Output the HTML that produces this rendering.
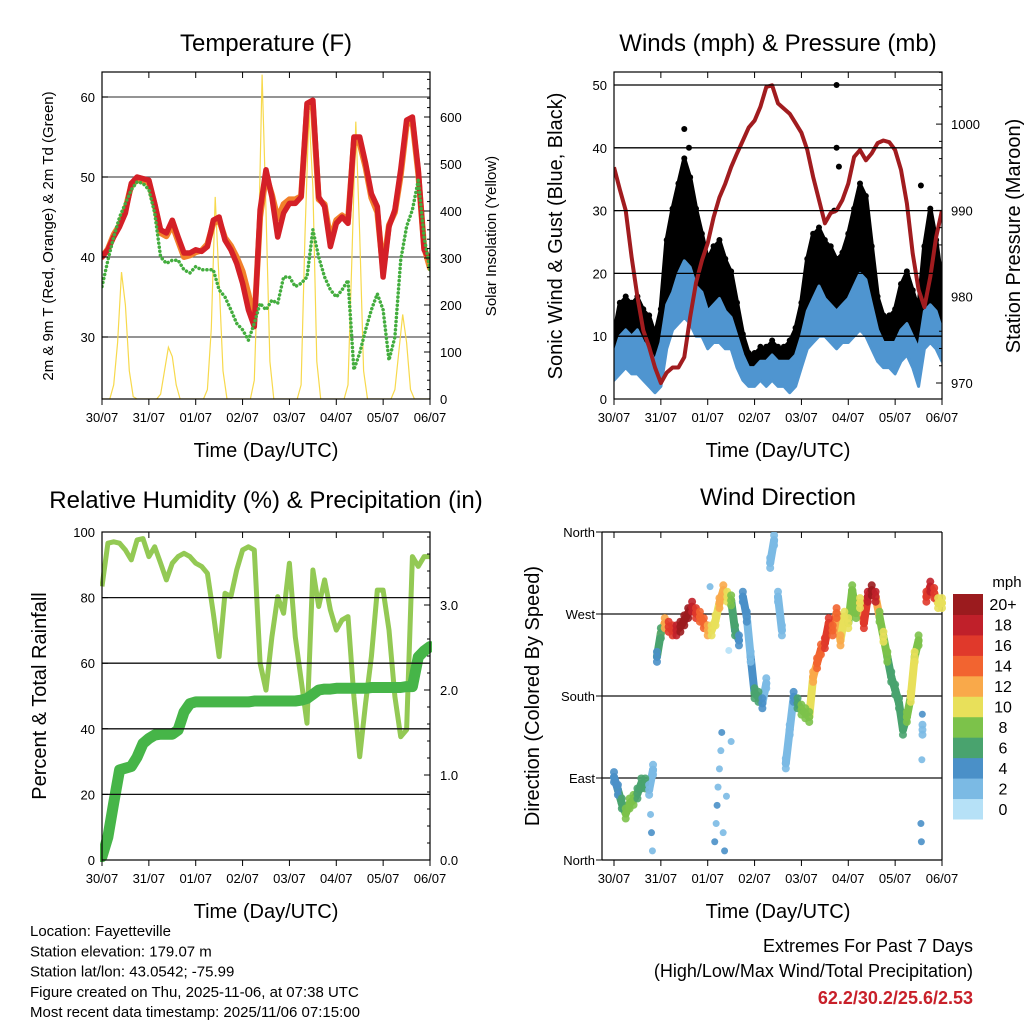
<!DOCTYPE html>
<html><head><meta charset="utf-8"><style>
html,body{margin:0;padding:0;background:#fff}
svg{display:block;font-family:"Liberation Sans",Arial,sans-serif}
</style></head><body>
<svg id="c" width="1024" height="1024" viewBox="0 0 1024 1024" xmlns="http://www.w3.org/2000/svg"></svg>
<script>
// ---------- DATA (3-hour steps, days 0..7) ----------
const dayLabels = ["30/07","31/07","01/07","02/07","03/07","04/07","05/07","06/07"];
const tempRed = [40,40.9,42.5,43.8,45.5,49.2,50,49.8,49.6,46.7,43.4,43,44.6,42.5,40.5,40.5,40.9,40.7,41.3,44.6,45,42.1,40.9,39.2,36.7,33.4,31.3,45.9,50.9,47.5,42.5,45.5,46.7,46.7,47.5,59.2,59.6,47.5,46.3,41.3,44.2,45,44.2,55,55,51.7,47.9,46.3,37.5,43.8,45.9,50.9,57.1,57.5,50.9,40.9,39.6];
const tempOrange = [40,41,42.8,44,46,49,49.6,49.5,49.3,46.5,43,42.6,44,42,40,40.2,40.6,40.8,41.6,44.2,44.6,42.4,41.4,40,38.2,35.4,32,45,50.2,47.8,44.8,46.6,47.2,47.2,47.6,58.6,58.8,47.2,46.6,42.2,44.6,45.2,44.6,54.4,54.2,51.2,47.4,45.6,38.4,44,45.6,50.2,56.5,57,50.4,41.2,38.6];
const dewGreen = [36.3,39.6,42.5,45,46.7,48.4,49.4,49.2,48.4,45.5,40,39.2,39.6,39.6,38.4,38,38.8,38.4,38.4,38.4,35.9,35,33.4,31.7,30.9,29.6,31.7,34.2,33.4,34.6,34.2,37.5,37.5,36.3,36.7,37.5,43.4,40,37.5,35.9,35,35.9,37.1,25.9,28,30.9,33.4,35.4,33.4,27.1,30,39.6,43.8,45.9,49.6,42.5,38.4];
// solar insolation, 2-hour steps
const solar = [0,0,0,30,120,270,200,60,5,0,0,0, 0,0,0,10,60,110,90,30,0,0,0,0, 0,0,0,20,150,430,250,60,0,0,0,0, 0,0,0,40,300,690,400,80,0,0,0,0, 0,0,0,30,350,610,450,80,0,0,0,0, 0,0,0,30,300,590,350,60,0,0,0,0, 0,0,0,20,100,180,120,20,0,0,0,0, 0];
const pressure = [995,992.4,990,984.6,980,976.1,974.2,971.8,970,971.2,971.8,971.8,973,977.6,981.6,984.2,986.2,989.2,991.5,993.1,995,996.6,998.1,999.6,1000.4,1002,1004.3,1004.5,1002.4,1001.8,1001.2,1000.1,999,997,993.9,991.2,988.5,989.7,990,991.2,993.1,996.2,997,995.8,996.6,997.8,998.1,997.9,997,994.7,990.8,985,980.8,978.8,982.3,986.9,990];
const windLo = [3,4,5,4,4,3,2,1,2,8,11,12,13,12,10,10,8,9,9,8,8,5,3,2,2,3,2,3,2,2,1,2,5,8,9,10,10,9,8,9,9,10,11,10,8,6,5,5,4,6,7,5,2,8,9,8,6];
const windHi = [7,10,11,10,11,9,8,6,9,15,17,20,22,21,18,17,14,15,16,14,13,10,7,5,5,6,6,7,6,6,6,7,10,14,16,18,16,15,14,15,16,18,20,19,15,11,9,9,9,11,12,10,8,14,15,14,11];
const gustLo = [5,8,9,8,8,7,6,4,5,12,16,18,20,19,16,15,13,14,14,12,12,8,5,4,4,5,4,5,4,4,3,4,8,13,15,16,15,14,12,14,15,17,19,18,14,10,8,8,7,10,12,10,8,13,15,14,10];
const gustHi = [10,15,16,15,16,14,13,10,14,25,30,34,38,35,30,26,22,24,25,22,20,15,10,7,7,8,8,9,8,8,9,11,15,22,26,27,25,24,22,23,26,30,34,32,24,16,13,13,14,18,20,17,14,24,30,25,18];
const gustOutDay = [1.5,1.6,4.75,4.75,4.8,4.7,6.55];
const gustOutVal = [43,40,50,40,37,30,34];
const rhVals = [83.4,96.6,97,96.6,94.5,91.5,97.6,98,92.5,95.5,90.5,85.4,90.5,92.5,93.5,92.5,90.5,89.5,87.4,75.2,62,81.3,80.3,88.4,94.5,95.5,94.5,60,51.8,68,80.3,75.2,90.5,68,55,41.7,88.4,77.3,85.4,76.2,70.1,73.2,74.2,49.8,31.5,47.8,62,82.3,82.3,70.1,49.8,37.6,39.7,92.5,89.5,92.5,92.5];
const rainVals = [0.04,0.27,0.67,1.06,1.08,1.1,1.21,1.37,1.43,1.47,1.48,1.48,1.48,1.53,1.74,1.84,1.86,1.86,1.86,1.86,1.86,1.86,1.86,1.86,1.86,1.86,1.87,1.87,1.87,1.87,1.87,1.87,1.87,1.87,1.88,1.9,1.95,2.0,2.01,2.01,2.02,2.02,2.02,2.02,2.02,2.02,2.03,2.03,2.03,2.03,2.03,2.03,2.04,2.04,2.39,2.46,2.51];
// wind direction, 2-hour steps
const dirVals = [91,77,62,51,62,66,73,84,84,77,99,223,249,260,256,252,252,256,263,271,278,271,267,260,252,252,263,282,296,289,285,252,241,289,267,223,183,179,172,194,326,351,289,252,106,143,179,172,165,161,157,201,216,231,238,260,252,271,241,267,260,296,271,282,260,289,296,289,267,245,223,201,187,172,143,157,179,223,241,143,289,300,293,282,282];
const dirSpd = [4,5,7,8,9,8,7,7,6,3,2,5,7,13,16,17,18,20,20,20,18,16,14,14,12,10,10,12,12,10,9,6,5,4,4,3,6,6,4,3,3,3,3,3,2,3,4,6,8,9,9,12,14,15,17,16,15,14,12,11,10,8,8,11,16,18,20,18,8,10,8,7,6,6,6,8,11,10,8,3,16,18,16,10,10];
const dirExtraDay = [2.15,2.18,2.2,2.22,2.25,2.28,2.3,2.33,2.36,2.4,0.78,0.8,0.82,6.55,6.56,6.57,6.58,2.05,2.45,2.5];
const dirExtraDeg = [20,40,60,80,100,120,140,30,10,70,50,30,10,40,20,110,160,300,230,130];
const dirExtraSpd = [4,3,4,3,2,3,4,3,4,2,3,4,3,4,4,3,4,2,1,2];
const cbLabels = ["0","2","4","6","8","10","12","14","16","18","20+"];
const cbColors = ["#b6e1f7","#7bbae4","#4a90c8","#49a36e","#7cc24a","#e8e05a","#f9a94a","#f26430","#e0392b","#c0202a","#9b1b1e"];

// ---------- RENDER ----------
const NS="http://www.w3.org/2000/svg";
const svg=document.getElementById('c');
function mk(tag,attrs,parent){const e=document.createElementNS(NS,tag);for(const k in attrs)e.setAttribute(k,attrs[k]);(parent||svg).appendChild(e);return e;}
function txt(s,x,y,size,anchor,parent,extra){const t=mk('text',Object.assign({x:x,y:y,'font-size':size,'text-anchor':anchor||'middle',fill:'#000'},extra||{}),parent);t.textContent=s;return t;}
function pathFrom(vals,xf,yf,step){let d='';vals.forEach((v,i)=>{d+=(i?'L':'M')+xf(i*step).toFixed(1)+' '+yf(v).toFixed(1);});return d;}

function axesFrame(g,x0,x1,y0,y1){
  const r=mk('rect',{x:x0,y:y0,width:x1-x0,height:y1-y0,fill:'none',stroke:'#000','stroke-width':1.2},g);
  
  
}
function xAxis(g,x0,x1,y0,y1){
  dayLabels.forEach((lab,i)=>{
    const x=x0+i*(x1-x0)/7;
    mk('line',{x1:x,x2:x,y1:y1,y2:y1+6,stroke:'#000','stroke-width':1},g);
    mk('line',{x1:x,x2:x,y1:y0,y2:y0+6,stroke:'#000','stroke-width':1},g);
    const t=txt(lab,x,y1+23,13,'middle',g);
    
    
  });
  const t=txt('Time (Day/UTC)',(x0+x1)/2,y1+58,20,'middle',g);
  
  
}
function grid(g,x0,x1,ys,color){ys.forEach(y=>mk('line',{x1:x0,x2:x1,y1:y,y2:y,stroke:color||'#333','stroke-width':1.3},g));}

// ===== Panel 1: Temperature =====
(function(){
  const g=mk('g',{});
  
  
  const x0=102,x1=430,y0=72,y1=399;
  const xs=d=>x0+d/7*(x1-x0);
  const yT=v=>399-(v-22.25)*8;
  const yS=v=>399-v*0.47;
  const clip=mk('clipPath',{id:'cp1'},g);mk('rect',{x:x0,y:y0,width:x1-x0,height:y1-y0},clip);
  grid(g,x0,x1,[30,40,50,60].map(yT),'#555');
  const pg=mk('g',{'clip-path':'url(#cp1)'},g);
  const sol=mk('path',{d:pathFrom(solar,xs,yS,1/12),fill:'none',stroke:'#f7d94c','stroke-width':1.2},pg);
  
  
  const o=mk('path',{d:pathFrom(tempOrange,xs,yT,0.125),fill:'none',stroke:'#f2812b','stroke-width':6,'stroke-linejoin':'round','stroke-linecap':'round'},pg);
  
  
  const r=mk('path',{d:pathFrom(tempRed,xs,yT,0.125),fill:'none',stroke:'#d42027','stroke-width':5.5,'stroke-linejoin':'round','stroke-linecap':'round'},pg);
  
  
  const gr=mk('path',{d:pathFrom(dewGreen,xs,yT,0.125),fill:'none',stroke:'#43ad3e','stroke-width':3.5,'stroke-dasharray':'0.1 4','stroke-linecap':'round'},pg);
  
  
  axesFrame(g,x0,x1,y0,y1);
  [30,40,50,60].forEach(v=>{mk('line',{x1:x0,x2:x0+6,y1:yT(v),y2:yT(v),stroke:'#000'},g);const t=txt(String(v),x0-7,yT(v)+5,13,'end',g);});
  for(let v=0;v<=680;v+=20){const y=yS(v);if(y<y0)break;mk('line',{x1:x1,x2:x1-(v%100?3:6),y1:y,y2:y,stroke:'#000'},g);}
  [0,100,200,300,400,500,600].forEach(v=>{const t=txt(String(v),x1+10,yS(v)+5,13,'start',g);});
  xAxis(g,x0,x1,y0,y1);
  const ti=txt('Temperature (F)',266,51,24,'middle',g);
  const yl=txt('2m & 9m T (Red, Orange) & 2m Td (Green)',0,0,15,'middle',g,{transform:'translate(53,236) rotate(-90)'});
  const yr=txt('Solar Insolation (Yellow)',0,0,15,'middle',g,{transform:'translate(496,236) rotate(-90)'});
})();

// ===== Panel 2: Winds & Pressure =====
(function(){
  const g=mk('g',{});
  
  
  const x0=614,x1=942,y0=72,y1=399;
  const xs=d=>x0+d/7*(x1-x0);
  const yW=v=>399-v*6.28;
  const yP=p=>383-(p-970)*8.63;
  const clip=mk('clipPath',{id:'cp2'},g);mk('rect',{x:x0,y:y0,width:x1-x0,height:y1-y0},clip);
  const pg=mk('g',{'clip-path':'url(#cp2)'},g);
  function band(lo,hi,fill,w,name){
    let d='';hi.forEach((v,i)=>{d+=(i?'L':'M')+xs(i*0.125).toFixed(1)+' '+yW(v).toFixed(1);});
    for(let i=lo.length-1;i>=0;i--)d+='L'+xs(i*0.125).toFixed(1)+' '+yW(lo[i]).toFixed(1);
    const p=mk('path',{d:d+'Z',fill:fill,stroke:fill,'stroke-width':w,'stroke-linejoin':'round'},pg);
    
    
  }
  band(gustLo,gustHi,'#000',5,'gust-black-band');
  gustHi.forEach((v,i)=>{const c=mk('circle',{cx:xs(i*0.125),cy:yW(v)-2,r:3,fill:'#000'},pg);});
  gustOutDay.forEach((d,i)=>{const c=mk('circle',{cx:xs(d),cy:yW(gustOutVal[i]),r:3,fill:'#000'},pg);});
  band(windLo,windHi,'#4f95d0',3,'sonic-wind-blue-band');
  grid(g,x0,x1,[10,20,30,40,50].map(yW),'#000');
  const pr=mk('path',{d:pathFrom(pressure,xs,yP,0.125),fill:'none',stroke:'#a11c1f','stroke-width':4,'stroke-linejoin':'round'},pg);
  
  
  axesFrame(g,x0,x1,y0,y1);
  [0,10,20,30,40,50].forEach(v=>{mk('line',{x1:x0,x2:x0+6,y1:yW(v),y2:yW(v),stroke:'#000'},g);const t=txt(String(v),x0-7,yW(v)+5,13,'end',g);});
  for(let p=968;p<=1006;p+=2){const y=yP(p);if(y<y0||y>y1)continue;mk('line',{x1:x1,x2:x1-(p%10?3:6),y1:y,y2:y,stroke:'#000'},g);}
  [970,980,990,1000].forEach(v=>{const t=txt(String(v),x1+9,yP(v)+5,13,'start',g);});
  xAxis(g,x0,x1,y0,y1);
  const ti=txt('Winds (mph) & Pressure (mb)',778,51,24,'middle',g);
  const yl=txt('Sonic Wind & Gust (Blue, Black)',0,0,20,'middle',g,{transform:'translate(562,236) rotate(-90)'});
  const yr=txt('Station Pressure (Maroon)',0,0,20,'middle',g,{transform:'translate(1020,236) rotate(-90)'});
})();

// ===== Panel 3: RH & Precip =====
(function(){
  const g=mk('g',{});
  
  
  const x0=102,x1=430,y0=532,y1=860;
  const xs=d=>x0+d/7*(x1-x0);
  const yR=v=>860-v*3.28;
  const yN=v=>860-v*85;
  const clip=mk('clipPath',{id:'cp3'},g);mk('rect',{x:x0-2,y:y0,width:x1-x0+4,height:y1-y0+4},clip);
  const pg=mk('g',{'clip-path':'url(#cp3)'},g);
  const rh=mk('path',{d:pathFrom(rhVals,xs,yR,0.125),fill:'none',stroke:'#93c954','stroke-width':5,'stroke-linejoin':'round'},pg);
  
  
  grid(g,x0,x1,[20,40,60,80].map(yR),'#111');
  const rn=mk('path',{d:pathFrom(rainVals,xs,yN,0.125),fill:'none',stroke:'#46b548','stroke-width':11,'stroke-linejoin':'round','stroke-linecap':'round'},pg);
  
  
  axesFrame(g,x0,x1,y0,y1);
  [0,20,40,60,80,100].forEach(v=>{mk('line',{x1:x0,x2:x0+6,y1:yR(v),y2:yR(v),stroke:'#000'},g);const t=txt(String(v),x0-7,yR(v)+5,13,'end',g);});
  for(let k=0;k<=19;k++){const v=k*0.2;const y=yN(v);if(y<y0)break;mk('line',{x1:x1,x2:x1-(k%5?3:6),y1:y,y2:y,stroke:'#000'},g);}
  ['0.0','1.0','2.0','3.0'].forEach(s=>{const t=txt(s,x1+10,yN(parseFloat(s))+5,13,'start',g);});
  xAxis(g,x0,x1,y0,y1);
  const ti=txt('Relative Humidity (%) & Precipitation (in)',266,508,24,'middle',g);
  const yl=txt('Percent & Total Rainfall',0,0,20,'middle',g,{transform:'translate(46,696) rotate(-90)'});
})();

// ===== Panel 4: Wind Direction =====
(function(){
  const g=mk('g',{});
  
  
  const x0=614,x1=942,y0=532,y1=860;
  const xs=d=>x0+d/7*(x1-x0);
  const yD=deg=>860-deg*328/360;
  const col=s=>cbColors[Math.min(10,Math.max(0,Math.floor(s/2)))];
  mk('line',{x1:602,x2:602,y1:y0,y2:y1,stroke:'#000','stroke-width':1.2},g);
  mk('line',{x1:602,x2:x1,y1:y0,y2:y0,stroke:'#000','stroke-width':1.2},g);
  mk('line',{x1:602,x2:x1,y1:y1,y2:y1,stroke:'#000','stroke-width':1.2},g);
  mk('line',{x1:x1,x2:x1,y1:y0,y2:y1,stroke:'#000','stroke-width':1.2},g);
  grid(g,602,x1,[90,180,270].map(yD),'#111');
  const clip=mk('clipPath',{id:'cp4'},g);mk('rect',{x:602,y:y0,width:x1-602+6,height:y1-y0},clip);
  const pg=mk('g',{'clip-path':'url(#cp4)','fill-opacity':0.9},g);
  dirExtraDay.forEach((d,i)=>{const c=mk('circle',{cx:xs(d),cy:yD(dirExtraDeg[i]),r:3.5,fill:col(dirExtraSpd[i])},pg);});
  // connecting segments between consecutive close observations
  dirVals.forEach((v,i)=>{
    if(i===0)return;
    const p=dirVals[i-1];
    if(Math.abs(v-p)>45)return;
    const s=mk('line',{x1:xs((i-1)/12),y1:yD(p),x2:xs(i/12),y2:yD(v),stroke:col((dirSpd[i]+dirSpd[i-1])/2),'stroke-width':8,'stroke-linecap':'round'},pg);
    
    
  });
  dirVals.forEach((v,i)=>{
    const d=i/12;
    [-5,0,5].forEach(off=>{
      const c=mk('circle',{cx:xs(d),cy:yD(v)+off,r:4,fill:col(dirSpd[i])},pg);
      
      
    });
  });
  [['North',0],['East',90],['South',180],['West',270],['North',360]].forEach(([s,v])=>{mk('line',{x1:602,x2:596,y1:yD(v),y2:yD(v),stroke:'#000'},g);const t=txt(s,595,yD(v)+5,13,'end',g);});
  xAxis(g,x0,x1,y0,y1);
  const ti=txt('Wind Direction',778,505,24,'middle',g);
  const yl=txt('Direction (Colored By Speed)',0,0,20,'middle',g,{transform:'translate(539,696) rotate(-90)'});
  // colorbar
  const cb=mk('g',{},g);
  
  
  const bh=(819-594)/11;
  cbColors.forEach((c,i)=>{
    const y=819-(i+1)*bh;
    const r=mk('rect',{x:953,y:y,width:30,height:bh+0.5,fill:c},cb);
    
    
    const t=txt(cbLabels[i],1003,y+bh/2+6,16,'middle',cb);
    
    
  });
  const mph=txt('mph',1007,587,15,'middle',cb);
})();

// ===== Footer text =====
(function(){
  const g=mk('g',{});
  
  
  ['Location: Fayetteville','Station elevation: 179.07 m','Station lat/lon: 43.0542; -75.99','Figure created on Thu, 2025-11-06, at 07:38 UTC','Most recent data timestamp: 2025/11/06 07:15:00'].forEach((s,i)=>{
    const t=txt(s,30,936+i*20.3,15,'start',g);
    
    
  });
  const e=mk('g',{});
  
  
  const a=txt('Extremes For Past 7 Days',973,952,18,'end',e);
  const b=txt('(High/Low/Max Wind/Total Precipitation)',973,977,18,'end',e);
  const c=txt('62.2/30.2/25.6/2.53',973,1004,18,'end',e,{fill:'#c8202a','font-weight':'bold'});
})();
</script>
</body></html>
